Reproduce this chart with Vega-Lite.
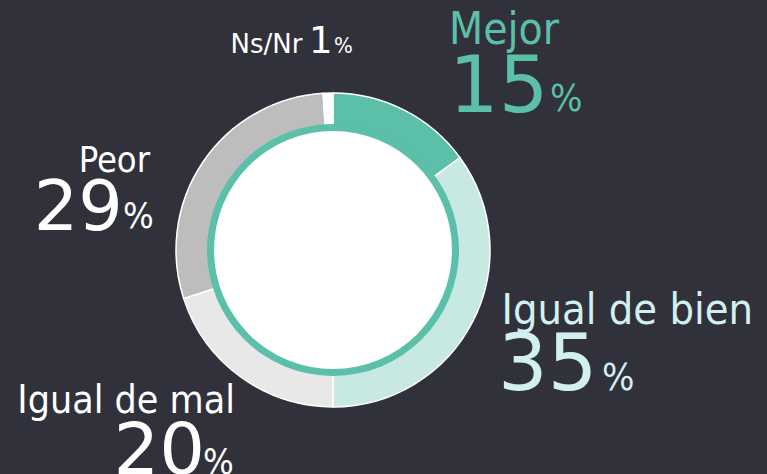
{
  "$schema": "https://vega.github.io/schema/vega-lite/v6.json",
  "autosize": {"type": "none"},
  "width": 666,
  "height": 448,
  "padding": {"left": 0, "top": 26, "right": 101, "bottom": 0},
  "background": "#30313a",
  "config": {"view": {"stroke": null}},
  "datasets": {
    "answers": [
      {"cat": "Mejor", "value": 15, "order": 1},
      {"cat": "Igual de bien", "value": 35, "order": 2},
      {"cat": "Igual de mal", "value": 20, "order": 3},
      {"cat": "Peor", "value": 29, "order": 4},
      {"cat": "Ns/Nr", "value": 1, "order": 5}
    ],
    "one": [{"k": 1}]
  },
  "layer": [
    {
      "data": {"name": "answers"},
      "transform": [
        {"stack": "value", "groupby": [], "sort": [{"field": "order", "order": "ascending"}], "as": ["v0", "v1"]}
      ],
      "mark": {"type": "arc", "outerRadius": 157, "innerRadius": 122, "stroke": "#ffffff", "strokeWidth": 1.5},
      "encoding": {
        "theta": {"field": "v0", "type": "quantitative", "scale": {"domain": [0, 100]}},
        "theta2": {"field": "v1"},
        "color": {
          "field": "cat",
          "type": "nominal",
          "scale": {
            "domain": ["Mejor", "Igual de bien", "Igual de mal", "Peor", "Ns/Nr"],
            "range": ["#5bbfa9", "#c8e9e1", "#e8e8e8", "#bdbdbd", "#ffffff"]
          },
          "legend": null
        }
      }
    },
    {
      "data": {"name": "one"},
      "mark": {"type": "arc", "theta": 0, "theta2": 6.2832, "innerRadius": 0, "outerRadius": 126, "fill": "#5bbfa9"},
      "encoding": {}
    },
    {
      "data": {"name": "one"},
      "mark": {"type": "arc", "theta": 0, "theta2": 6.2832, "innerRadius": 0, "outerRadius": 119, "fill": "#ffffff"},
      "encoding": {}
    },

    {
      "data": {"name": "answers"},
      "transform": [
        {"stack": "value", "groupby": [], "sort": [{"field": "order", "order": "ascending"}], "as": ["v0", "v1"]},
        {"filter": {"field": "cat", "equal": "Mejor"}}
      ],
      "mark": {"type": "text", "radius": 157, "align": "left", "baseline": "alphabetic", "dx": 116, "dy": -49, "fontSize": 44, "font": "DejaVu Sans Condensed", "fill": "#5bbfa9"},
      "encoding": {"theta": {"field": "v0", "type": "quantitative", "stack": null, "scale": {"domain": [0, 100]}}, "text": {"field": "cat"}}
    },
    {
      "data": {"name": "answers"},
      "transform": [
        {"stack": "value", "groupby": [], "sort": [{"field": "order", "order": "ascending"}], "as": ["v0", "v1"]},
        {"filter": {"field": "cat", "equal": "Mejor"}}
      ],
      "mark": {"type": "text", "radius": 157, "align": "left", "baseline": "alphabetic", "dx": 116, "dy": 19, "fontSize": 78, "font": "DejaVu Sans", "fill": "#5bbfa9"},
      "encoding": {"theta": {"field": "v0", "type": "quantitative", "stack": null, "scale": {"domain": [0, 100]}}, "text": {"field": "value", "type": "quantitative"}}
    },
    {
      "data": {"name": "answers"},
      "transform": [
        {"stack": "value", "groupby": [], "sort": [{"field": "order", "order": "ascending"}], "as": ["v0", "v1"]},
        {"filter": {"field": "cat", "equal": "Mejor"}}
      ],
      "mark": {"type": "text", "radius": 157, "align": "left", "baseline": "alphabetic", "dx": 217, "dy": 18, "fontSize": 38, "font": "DejaVu Sans Condensed", "fill": "#5bbfa9"},
      "encoding": {"theta": {"field": "v0", "type": "quantitative", "stack": null, "scale": {"domain": [0, 100]}}, "text": {"value": "%"}}
    },

    {
      "data": {"name": "answers"},
      "transform": [
        {"stack": "value", "groupby": [], "sort": [{"field": "order", "order": "ascending"}], "as": ["v0", "v1"]},
        {"filter": {"field": "cat", "equal": "Igual de bien"}}
      ],
      "mark": {"type": "text", "radius": 157, "align": "left", "baseline": "alphabetic", "dx": 41.5, "dy": 166.3, "fontSize": 43, "font": "DejaVu Sans Condensed", "fill": "#d2f0f0"},
      "encoding": {"theta": {"field": "v0", "type": "quantitative", "stack": null, "scale": {"domain": [0, 100]}}, "text": {"field": "cat"}}
    },
    {
      "data": {"name": "answers"},
      "transform": [
        {"stack": "value", "groupby": [], "sort": [{"field": "order", "order": "ascending"}], "as": ["v0", "v1"]},
        {"filter": {"field": "cat", "equal": "Igual de bien"}}
      ],
      "mark": {"type": "text", "radius": 157, "align": "left", "baseline": "alphabetic", "dx": 38, "dy": 232.3, "fontSize": 78, "font": "DejaVu Sans", "fill": "#d2f0f0"},
      "encoding": {"theta": {"field": "v0", "type": "quantitative", "stack": null, "scale": {"domain": [0, 100]}}, "text": {"field": "value", "type": "quantitative"}}
    },
    {
      "data": {"name": "answers"},
      "transform": [
        {"stack": "value", "groupby": [], "sort": [{"field": "order", "order": "ascending"}], "as": ["v0", "v1"]},
        {"filter": {"field": "cat", "equal": "Igual de bien"}}
      ],
      "mark": {"type": "text", "radius": 157, "align": "left", "baseline": "alphabetic", "dx": 142, "dy": 232.3, "fontSize": 38, "font": "DejaVu Sans Condensed", "fill": "#d2f0f0"},
      "encoding": {"theta": {"field": "v0", "type": "quantitative", "stack": null, "scale": {"domain": [0, 100]}}, "text": {"value": "%"}}
    },

    {
      "data": {"name": "answers"},
      "transform": [
        {"stack": "value", "groupby": [], "sort": [{"field": "order", "order": "ascending"}], "as": ["v0", "v1"]},
        {"filter": {"field": "cat", "equal": "Igual de mal"}}
      ],
      "mark": {"type": "text", "radius": 157, "align": "right", "baseline": "alphabetic", "dx": -98, "dy": 6, "fontSize": 39, "font": "DejaVu Sans Condensed", "fill": "#ffffff"},
      "encoding": {"theta": {"field": "v0", "type": "quantitative", "stack": null, "scale": {"domain": [0, 100]}}, "text": {"field": "cat"}}
    },
    {
      "data": {"name": "answers"},
      "transform": [
        {"stack": "value", "groupby": [], "sort": [{"field": "order", "order": "ascending"}], "as": ["v0", "v1"]},
        {"filter": {"field": "cat", "equal": "Igual de mal"}}
      ],
      "mark": {"type": "text", "radius": 157, "align": "left", "baseline": "alphabetic", "dx": -219.5, "dy": 67, "fontSize": 72, "font": "DejaVu Sans", "fill": "#ffffff"},
      "encoding": {"theta": {"field": "v0", "type": "quantitative", "stack": null, "scale": {"domain": [0, 100]}}, "text": {"field": "value", "type": "quantitative"}}
    },
    {
      "data": {"name": "answers"},
      "transform": [
        {"stack": "value", "groupby": [], "sort": [{"field": "order", "order": "ascending"}], "as": ["v0", "v1"]},
        {"filter": {"field": "cat", "equal": "Igual de mal"}}
      ],
      "mark": {"type": "text", "radius": 157, "align": "left", "baseline": "alphabetic", "dx": -130, "dy": 67, "fontSize": 36, "font": "DejaVu Sans Condensed", "fill": "#ffffff"},
      "encoding": {"theta": {"field": "v0", "type": "quantitative", "stack": null, "scale": {"domain": [0, 100]}}, "text": {"value": "%"}}
    },

    {
      "data": {"name": "answers"},
      "transform": [
        {"stack": "value", "groupby": [], "sort": [{"field": "order", "order": "ascending"}], "as": ["v0", "v1"]},
        {"filter": {"field": "cat", "equal": "Peor"}}
      ],
      "mark": {"type": "text", "radius": 157, "align": "right", "baseline": "alphabetic", "dx": -33.7, "dy": -126.5, "fontSize": 36, "font": "DejaVu Sans Condensed", "fill": "#ffffff"},
      "encoding": {"theta": {"field": "v0", "type": "quantitative", "stack": null, "scale": {"domain": [0, 100]}}, "text": {"field": "cat"}}
    },
    {
      "data": {"name": "answers"},
      "transform": [
        {"stack": "value", "groupby": [], "sort": [{"field": "order", "order": "ascending"}], "as": ["v0", "v1"]},
        {"filter": {"field": "cat", "equal": "Peor"}}
      ],
      "mark": {"type": "text", "radius": 157, "align": "left", "baseline": "alphabetic", "dx": -150, "dy": -68.5, "fontSize": 70, "font": "DejaVu Sans", "fill": "#ffffff"},
      "encoding": {"theta": {"field": "v0", "type": "quantitative", "stack": null, "scale": {"domain": [0, 100]}}, "text": {"field": "value", "type": "quantitative"}}
    },
    {
      "data": {"name": "answers"},
      "transform": [
        {"stack": "value", "groupby": [], "sort": [{"field": "order", "order": "ascending"}], "as": ["v0", "v1"]},
        {"filter": {"field": "cat", "equal": "Peor"}}
      ],
      "mark": {"type": "text", "radius": 157, "align": "left", "baseline": "alphabetic", "dx": -60.7, "dy": -70.5, "fontSize": 36, "font": "DejaVu Sans Condensed", "fill": "#ffffff"},
      "encoding": {"theta": {"field": "v0", "type": "quantitative", "stack": null, "scale": {"domain": [0, 100]}}, "text": {"value": "%"}}
    },

    {
      "data": {"name": "answers"},
      "transform": [
        {"stack": "value", "groupby": [], "sort": [{"field": "order", "order": "ascending"}], "as": ["v0", "v1"]},
        {"filter": {"field": "cat", "equal": "Ns/Nr"}}
      ],
      "mark": {"type": "text", "radius": 157, "align": "left", "baseline": "alphabetic", "dx": -92.6, "dy": -40.3, "fontSize": 26, "font": "DejaVu Sans", "fill": "#ffffff"},
      "encoding": {"theta": {"field": "v0", "type": "quantitative", "stack": null, "scale": {"domain": [0, 100]}}, "text": {"field": "cat"}}
    },
    {
      "data": {"name": "answers"},
      "transform": [
        {"stack": "value", "groupby": [], "sort": [{"field": "order", "order": "ascending"}], "as": ["v0", "v1"]},
        {"filter": {"field": "cat", "equal": "Ns/Nr"}}
      ],
      "mark": {"type": "text", "radius": 157, "align": "left", "baseline": "alphabetic", "dx": -14.1, "dy": -40.3, "fontSize": 37, "font": "DejaVu Sans", "fill": "#ffffff"},
      "encoding": {"theta": {"field": "v0", "type": "quantitative", "stack": null, "scale": {"domain": [0, 100]}}, "text": {"field": "value", "type": "quantitative"}}
    },
    {
      "data": {"name": "answers"},
      "transform": [
        {"stack": "value", "groupby": [], "sort": [{"field": "order", "order": "ascending"}], "as": ["v0", "v1"]},
        {"filter": {"field": "cat", "equal": "Ns/Nr"}}
      ],
      "mark": {"type": "text", "radius": 157, "align": "left", "baseline": "alphabetic", "dx": 10.9, "dy": -40.3, "fontSize": 22, "font": "DejaVu Sans Condensed", "fill": "#ffffff"},
      "encoding": {"theta": {"field": "v0", "type": "quantitative", "stack": null, "scale": {"domain": [0, 100]}}, "text": {"value": "%"}}
    }
  ]
}
